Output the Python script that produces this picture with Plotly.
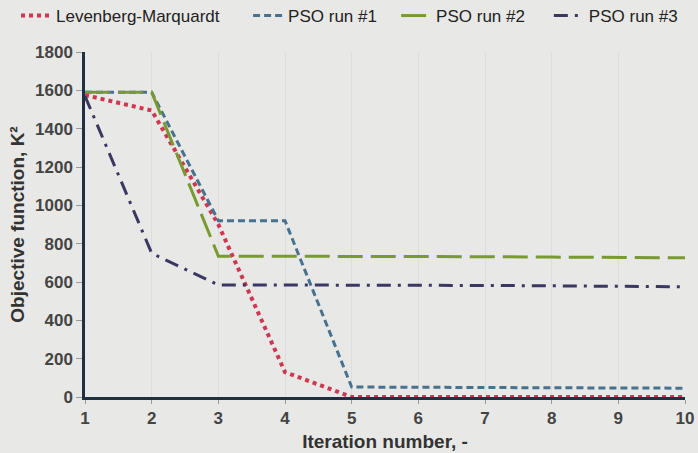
import plotly.graph_objects as go

iterations = [1, 2, 3, 4, 5, 6, 7, 8, 9, 10]
lm = [1575, 1495, 900, 130, 0, 0, 0, 0, 0, 0]
pso1 = [1590, 1590, 920, 920, 52, 50, 49, 48, 47, 46]
pso2 = [1590, 1590, 735, 735, 735, 733, 732, 730, 728, 726]
pso3 = [1570, 750, 585, 585, 584, 583, 582, 580, 578, 575]

series_names = ["Levenberg-Marquardt", "PSO run #1", "PSO run #2", "PSO run #3"]
pads = [5, 3, 4, 0]

x_ticks = list(range(1, 11))
y_ticks = list(range(0, 1801, 200))

FONT = "Liberation Sans, Arial, sans-serif"
NB = "\u00a0"

W, H = 698, 453
ML, MR, MT, MB = 85, 13, 52, 56
PW, PH = W - ML - MR, H - MT - MB

fig = go.Figure()
styles = [
    dict(color="#cf3650", width=4, dash="4px,4px"),
    dict(color="#46728f", width=3, dash="7px,4px"),
    dict(color="#789a30", width=3, dash="25px,8px"),
    dict(color="#3b3763", width=3, dash="14px,7px,3px,7px"),
]
for ys, nm, pad, st in zip([lm, pso1, pso2, pso3], series_names, pads, styles):
    fig.add_trace(go.Scatter(x=iterations, y=ys, mode="lines", name=nm + NB * pad,
                             line=st))

fig.update_layout(
    width=W, height=H,
    paper_bgcolor="#e8e8e6", plot_bgcolor="#e8e8e6",
    margin=dict(l=ML, r=MR, t=MT, b=MB, autoexpand=False),
    font=dict(family=FONT, color="#333333", size=15),
    legend=dict(orientation="h", x=(16 - ML) / PW, xanchor="left",
                y=(H - MB - 16) / PH, yanchor="middle",
                font=dict(size=17, color="#222222", family=FONT),
                bgcolor="rgba(0,0,0,0)", itemwidth=30),
    showlegend=True,
)
fig.update_xaxes(
    range=[1, 10], tickvals=x_ticks, ticks="outside", ticklen=4, tickcolor="#9a9a9a",
    showgrid=True, gridcolor="#dddddb", gridwidth=1, zeroline=False,
    showline=True, linecolor="#1f3040", linewidth=3,
    tickfont=dict(size=17, color="#444444", family=FONT, weight="bold"),
    title=dict(text="<b>Iteration number, -</b>", font=dict(size=19, color="#333333", family=FONT),
               standoff=8),
)
fig.update_yaxes(
    range=[0, 1800], tickvals=y_ticks, ticks="outside", ticklen=6, tickcolor="#9a9a9a",
    showgrid=False, zeroline=False,
    showline=True, linecolor="#1f3040", linewidth=2.5,
    tickfont=dict(size=17, color="#444444", family=FONT, weight="bold"),
    title=dict(text="<b>Objective function, K²</b>", font=dict(size=19, color="#333333", family=FONT),
               standoff=6),
)

fig.write_html("out.html")
